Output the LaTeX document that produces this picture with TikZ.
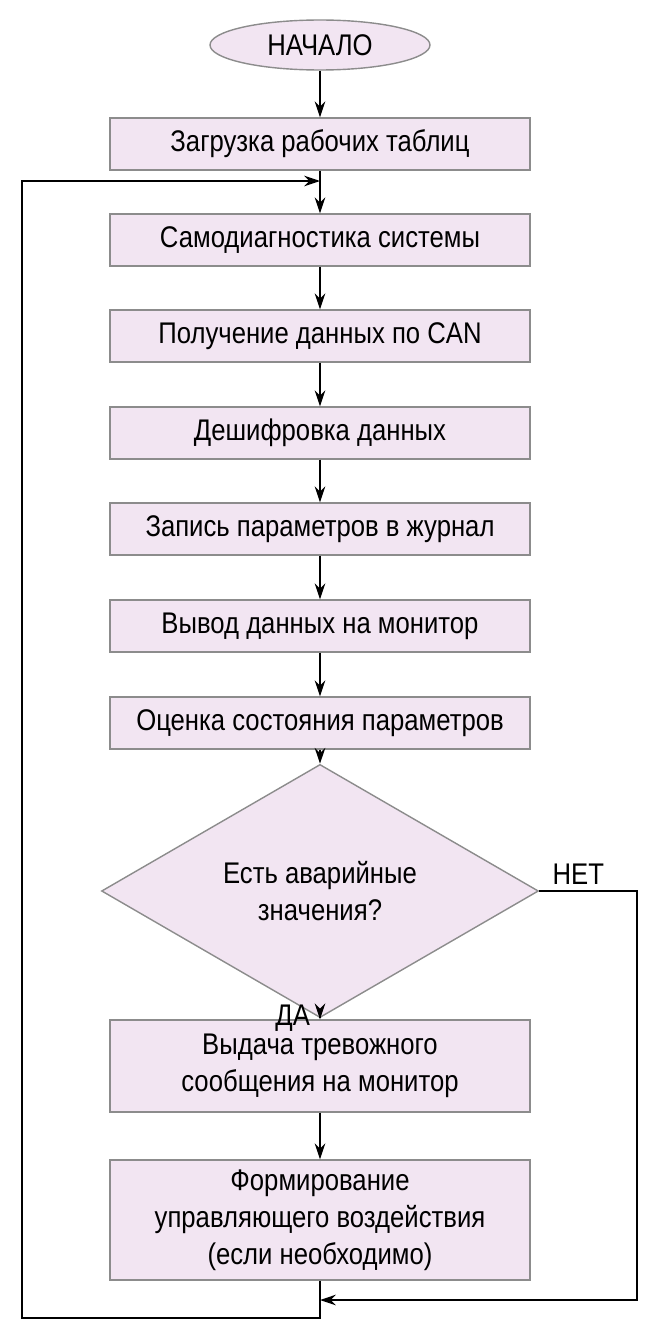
\documentclass[tikz,border=0pt]{standalone}
\usepackage{fontspec}
\setmainfont[FakeStretch=0.86]{Liberation Sans}
\usetikzlibrary{arrows.meta,shapes.geometric}

\tikzset{
  blk/.style={draw=black!45, fill=violet!10, thick, minimum width=8.4cm, minimum height=1.04cm, align=center, inner sep=0pt},
  term/.style={draw=black!45, fill=violet!10, thick, ellipse, minimum width=4.4cm, minimum height=1cm, inner sep=0pt},
  cond/.style={draw=black!45, fill=violet!10, thick, diamond, minimum width=8.74cm, minimum height=3.34cm, inner sep=0pt, align=center},
  flow/.style={thick, -{Stealth[length=9pt,width=6pt]}}
}

\begin{document}
\begin{tikzpicture}[x=0.02cm, y=-0.02cm, font=\fontsize{17}{21}\selectfont]
		%frame
		\useasboundingbox (0,0) rectangle (659,1335);
		
		%blocks
		\node[term] (start) at (320,45) {НАЧАЛО};
		\node[blk] (load) at (320,144) {Загрузка рабочих таблиц};
		\node[blk] (diag) at (320,240) {Самодиагностика системы};
		\node[blk] (recv) at (320,336) {Получение данных по CAN};
		\node[blk] (decode) at (320,433) {Дешифровка данных};
		\node[blk] (log) at (320,529) {Запись параметров в журнал};
		\node[blk] (show) at (320,626) {Вывод данных на монитор};
		\node[blk] (eval) at (320,723) {Оценка состояния параметров};
		\node[cond] (alarm) at (320,891) {Есть аварийные\\значения?};
		\node[blk, minimum height=1.84cm] (warn) at (320,1066) {Выдача тревожного\\сообщения на монитор};
		\node[blk, minimum height=2.4cm] (act) at (320,1220) {Формирование\\управляющего воздействия\\(если необходимо)};
		
		%corners
		\coordinate (top) at (320,181);
		\coordinate (bot) at (320,1300);
		
		%arrows
		\draw[flow] (start) -- (load);
		\draw[flow] (load) -- (diag);
		\draw[flow] (diag) -- (recv);
		\draw[flow] (recv) -- (decode);
		\draw[flow] (decode) -- (log);
		\draw[flow] (log) -- (show);
		\draw[flow] (show) -- (eval);
		\draw[flow] (eval) -- (alarm);
		\draw[flow] (alarm) -- (warn) node[pos=0.25, left=2pt] {ДА};
		\draw[flow] (warn) -- (act);
		\draw[flow] (act.south) -- (320,1318) -- (22,1318) -- (22,181) -- (top);
		\draw[flow] (alarm.east) -- node[above, pos=0.4] {НЕТ} (637,891) -- (637,1300) -- (bot);
\end{tikzpicture}
\end{document}
